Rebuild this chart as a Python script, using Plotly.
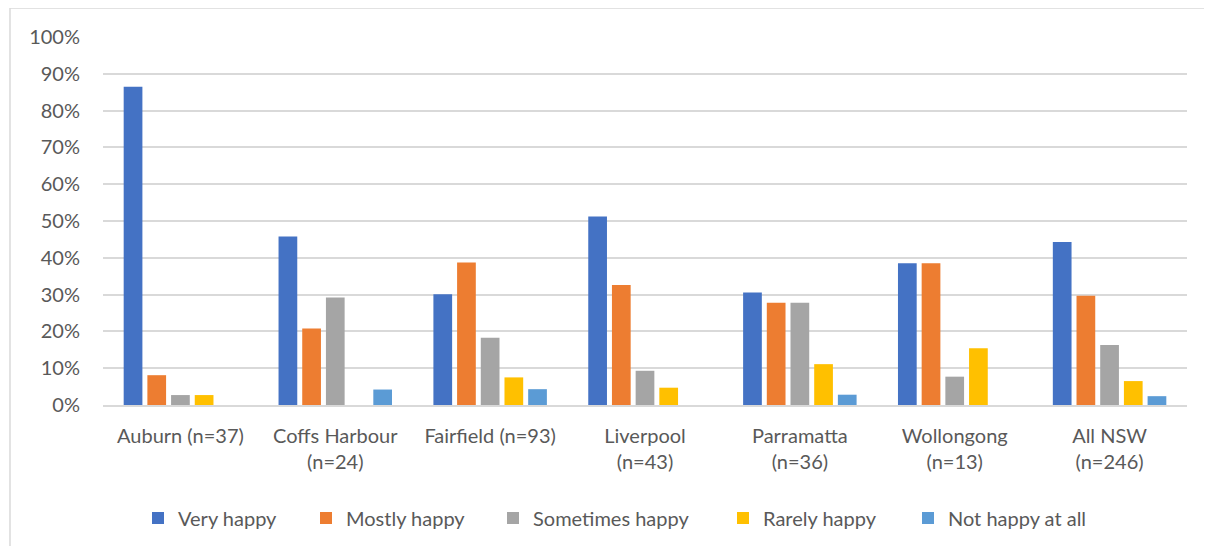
import plotly.graph_objects as go

categories = ["Auburn (n=37)", "Coffs Harbour<br>(n=24)", "Fairfield (n=93)", "Liverpool<br>(n=43)",
              "Parramatta<br>(n=36)", "Wollongong<br>(n=13)", "All NSW<br>(n=246)"]
series_names = ["Very happy", "Mostly happy", "Sometimes happy", "Rarely happy", "Not happy at all"]
very_happy = [86.5, 45.8, 30.1, 51.2, 30.6, 38.5, 44.3]
mostly_happy = [8.1, 20.8, 38.7, 32.6, 27.8, 38.5, 29.7]
sometimes_happy = [2.7, 29.2, 18.3, 9.3, 27.8, 7.7, 16.3]
rarely_happy = [2.7, 0, 7.5, 4.7, 11.1, 15.4, 6.5]
not_happy = [0, 4.2, 4.3, 0, 2.8, 0, 2.4]
colors = ["#4472C4", "#ED7D31", "#A5A5A5", "#FFC000", "#5B9BD5"]
tick_vals = [0, 10, 20, 30, 40, 50, 60, 70, 80, 90, 100]
tick_text = [f"{v}%" for v in tick_vals]

values = [very_happy, mostly_happy, sometimes_happy, rarely_happy, not_happy]

# legend entry left edges (pixels within figure)
legend_px = [130, 298, 485, 715, 900]
plot_left, plot_w = 95, 1084

font_family = "Lato, 'Open Sans', sans-serif"
fig = go.Figure()
legend_layout = {}
for i, (name, vals, col) in enumerate(zip(series_names, values, colors)):
    lname = "legend" if i == 0 else f"legend{i+1}"
    fig.add_trace(go.Bar(x=categories, y=vals, name=name, legend=lname,
                         marker=dict(color=col, line=dict(width=0))))
    legend_layout[lname] = dict(orientation="h", x=(legend_px[i] - plot_left) / plot_w,
                                xanchor="left", y=0.052, yanchor="middle", yref="container",
                                font=dict(size=20, color="#595959"), itemwidth=30,
                                bgcolor="rgba(0,0,0,0)")

fig.update_layout(
    width=1196, height=538,
    margin=dict(l=95, r=17, t=29, b=141, autoexpand=False),
    paper_bgcolor="white", plot_bgcolor="white",
    barmode="group", bargap=0.235, bargroupgap=0.21,
    font=dict(family=font_family, size=20, color="#595959"),
    showlegend=True,
    **legend_layout,
)
fig.update_yaxes(range=[0, 100], tickvals=tick_vals, ticktext=tick_text, showgrid=True,
                 gridcolor="#D9D9D9", gridwidth=1.5, zeroline=False, showline=False,
                 ticks="", ticklabelstandoff=22, automargin=False,
                 tickfont=dict(size=20, color="#595959"))
fig.update_xaxes(showline=True, linecolor="#D9D9D9", linewidth=1.5, ticks="", automargin=False,
                 tickfont=dict(size=20, color="#595959"), ticklabelstandoff=12)
# chart-area border: only top and left edges fall inside the view
fig.add_shape(type="line", xref="paper", yref="paper", x0=-0.0858, x1=1.2, y0=1.079, y1=1.079,
              line=dict(color="#D9D9D9", width=1.5), layer="below")
fig.add_shape(type="line", xref="paper", yref="paper", x0=-0.0858, x1=-0.0858, y0=-0.6, y1=1.079,
              line=dict(color="#D9D9D9", width=1.5), layer="below")

fig.write_html("out.html")
